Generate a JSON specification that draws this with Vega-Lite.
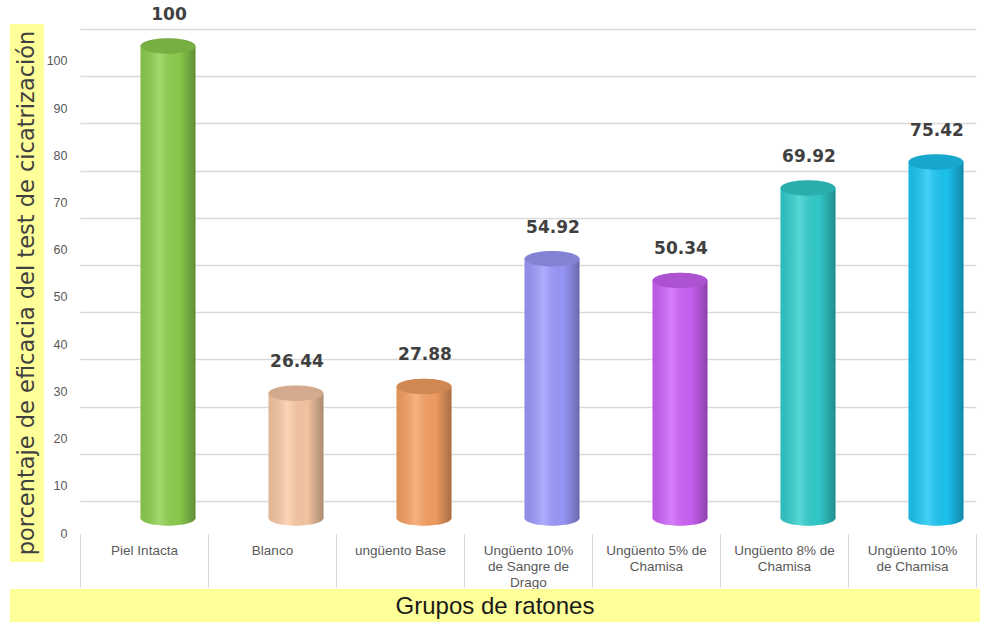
{
  "$schema": "https://vega.github.io/schema/vega-lite/v6.json",
  "padding": {"left": 10, "top": 5, "right": 5, "bottom": 0},
  "background": "white",
  "config": {"view": {"stroke": null}, "font": "Liberation Sans"},
  "datasets": {
    "groups": [
      {"grupo": "Piel Intacta", "eficacia": 100},
      {"grupo": "Blanco", "eficacia": 26.44},
      {"grupo": "ungüento Base", "eficacia": 27.88},
      {"grupo": "Ungüento 10% de Sangre de Drago", "eficacia": 54.92},
      {"grupo": "Ungüento 5% de Chamisa", "eficacia": 50.34},
      {"grupo": "Ungüento 8% de Chamisa", "eficacia": 69.92},
      {"grupo": "Ungüento 10% de Chamisa", "eficacia": 75.42}
    ],
    "ytitle": [{"t": "porcentaje de eficacia  del test de cicatrización"}],
    "xtitle": [{"t": "Grupos de ratones"}]
  },
  "spacing": -6,
  "vconcat": [
    {
      "bounds": "flush",
      "spacing": 36,
      "hconcat": [
        {
          "width": 34,
          "height": 538,
          "view": {"fill": "#ffff99", "stroke": null},
          "data": {"name": "ytitle"},
          "mark": {"type": "text", "angle": 270, "fontSize": 22.5, "font": "DejaVu Sans", "color": "#404040", "align": "center", "baseline": "middle"},
          "encoding": {
            "x": {"field": "t", "type": "nominal", "axis": null},
            "y": {"field": "t", "type": "nominal", "axis": null},
            "text": {"field": "t"}
          }
        },
        {
          "width": 896,
          "height": 494,
          "data": {"name": "groups"},
          "encoding": {
            "x": {
              "field": "grupo", "type": "nominal", "sort": null,
              "scale": {"paddingInner": 0, "paddingOuter": 0},
              "axis": {
                "title": null, "labelAngle": 0, "domain": false, "offset": 16,
                "tickBand": "extent", "tickSize": 53, "tickColor": "#d9d9d9", "tickWidth": 1,
                "labelPadding": -44, "labelColor": "#595959", "labelFont": "Liberation Sans",
                "labelFontSize": 13.5, "labelLineHeight": 16, "labelLimit": 200,
                "labelExpr": "datum.value == 'Ungüento 10% de Sangre de Drago' ? ['Ungüento 10%', 'de Sangre de', 'Drago'] : datum.value == 'Ungüento 5% de Chamisa' ? ['Ungüento 5% de', 'Chamisa'] : datum.value == 'Ungüento 8% de Chamisa' ? ['Ungüento 8% de', 'Chamisa'] : datum.value == 'Ungüento 10% de Chamisa' ? ['Ungüento 10%', 'de Chamisa'] : datum.label"
              }
            },
            "y": {
              "field": "eficacia", "type": "quantitative",
              "scale": {"domain": [0, 104.66], "nice": false},
              "axis": {
                "title": null, "values": [0, 10, 20, 30, 40, 50, 60, 70, 80, 90, 100],
                "domain": false, "ticks": false, "grid": true, "gridColor": "#d9d9d9", "gridWidth": 1.5,
                "tickOffset": -17, "labelOffset": 32, "labelPadding": 13,
                "labelColor": "#595959", "labelFontSize": 12.5, "labelFont": "Liberation Sans"
              }
            }
          },
          "layer": [
            {
              "mark": {"type": "point", "shape": "M -1 0 A 1 0.28 0 1 0 1 0 A 1 0.28 0 1 0 -1 0 Z", "size": 3025, "filled": true, "opacity": 1, "strokeWidth": 0, "xOffset": 24},
              "encoding": {
                "y": {"datum": 0, "type": "quantitative"},
                "color": {"field": "grupo", "type": "nominal", "sort": null, "legend": null,
                  "scale": {"domain": ["Piel Intacta", "Blanco", "ungüento Base", "Ungüento 10% de Sangre de Drago", "Ungüento 5% de Chamisa", "Ungüento 8% de Chamisa", "Ungüento 10% de Chamisa"],
                    "range": ["#8fd14f", "#fccba6", "#f8a263", "#9c9cff", "#cf63fb", "#33cfcf", "#1cc8f5"]}}
              }
            },
            {
              "mark": {"type": "point", "shape": "M -1 0 A 1 0.28 0 1 0 1 0 A 1 0.28 0 1 0 -1 0 Z", "size": 3025, "filled": true, "opacity": 1, "strokeWidth": 0, "xOffset": 24},
              "encoding": {
                "y": {"datum": 0, "type": "quantitative"},
                "color": {"value": {"gradient": "linear", "x1": 0, "x2": 1, "y1": 0, "y2": 0, "stops": [
                  {"offset": 0, "color": "rgba(0,0,0,0.10)"},
                  {"offset": 0.35, "color": "rgba(255,255,255,0.18)"},
                  {"offset": 0.7, "color": "rgba(0,0,0,0.04)"},
                  {"offset": 1, "color": "rgba(0,0,0,0.32)"}]}}
              }
            },
            {
              "mark": {"type": "bar", "width": 55, "xOffset": 24},
              "encoding": {
                "color": {"field": "grupo", "type": "nominal", "sort": null, "legend": null,
                  "scale": {"domain": ["Piel Intacta", "Blanco", "ungüento Base", "Ungüento 10% de Sangre de Drago", "Ungüento 5% de Chamisa", "Ungüento 8% de Chamisa", "Ungüento 10% de Chamisa"],
                    "range": ["#8fd14f", "#fccba6", "#f8a263", "#9c9cff", "#cf63fb", "#33cfcf", "#1cc8f5"]}}
              }
            },
            {
              "mark": {"type": "bar", "width": 55, "xOffset": 24},
              "encoding": {
                "color": {"value": {"gradient": "linear", "x1": 0, "x2": 1, "y1": 0, "y2": 0, "stops": [
                  {"offset": 0, "color": "rgba(0,0,0,0.10)"},
                  {"offset": 0.35, "color": "rgba(255,255,255,0.18)"},
                  {"offset": 0.7, "color": "rgba(0,0,0,0.04)"},
                  {"offset": 1, "color": "rgba(0,0,0,0.32)"}]}}
              }
            },
            {
              "mark": {"type": "point", "shape": "M -1 0 A 1 0.28 0 1 0 1 0 A 1 0.28 0 1 0 -1 0 Z", "size": 3025, "filled": true, "opacity": 1, "strokeWidth": 0, "xOffset": 24},
              "encoding": {
                "color": {"field": "grupo", "type": "nominal", "sort": null, "legend": null,
                  "scale": {"domain": ["Piel Intacta", "Blanco", "ungüento Base", "Ungüento 10% de Sangre de Drago", "Ungüento 5% de Chamisa", "Ungüento 8% de Chamisa", "Ungüento 10% de Chamisa"],
                    "range": ["#8fd14f", "#fccba6", "#f8a263", "#9c9cff", "#cf63fb", "#33cfcf", "#1cc8f5"]}}
              }
            },
            {
              "mark": {"type": "point", "shape": "M -1 0 A 1 0.28 0 1 0 1 0 A 1 0.28 0 1 0 -1 0 Z", "size": 3025, "filled": true, "opacity": 1, "strokeWidth": 0, "xOffset": 24},
              "encoding": {
                "color": {"value": "rgba(0,0,0,0.16)"}
              }
            },
            {
              "mark": {"type": "text", "font": "DejaVu Sans", "fontWeight": "bold", "fontSize": 17, "color": "#404040", "dy": -31, "xOffset": 25, "baseline": "middle"},
              "encoding": {
                "text": {"field": "eficacia", "type": "quantitative"}
              }
            }
          ]
        }
      ]
    },
    {
      "width": 970,
      "height": 36,
      "view": {"fill": "#ffff99", "stroke": null},
      "data": {"name": "xtitle"},
      "mark": {"type": "text", "fontSize": 24, "font": "Liberation Sans", "color": "#1a1a1a", "align": "center", "baseline": "middle"},
      "encoding": {
        "x": {"field": "t", "type": "nominal", "axis": null},
        "y": {"field": "t", "type": "nominal", "axis": null},
        "text": {"field": "t"}
      }
    }
  ]
}
